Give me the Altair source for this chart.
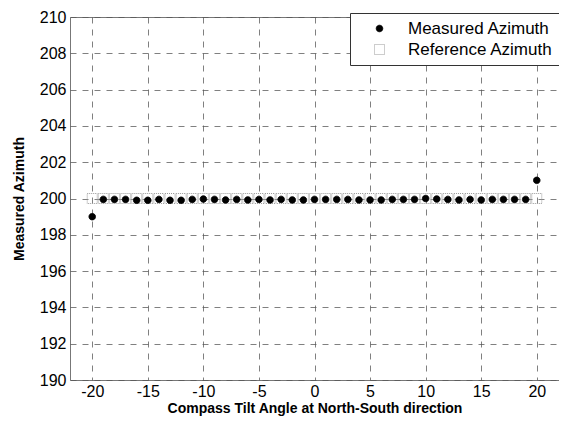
import altair as alt
import pandas as pd

angles = list(range(-20, 21))
measured = [199.0, 199.95, 199.95, 199.95, 199.9, 199.9, 199.95, 199.9, 199.9, 199.95,
            199.97, 199.95, 199.92, 199.95, 199.92, 199.95, 199.92, 199.95, 199.92, 199.92,
            199.95, 199.95, 199.95, 199.95, 199.92, 199.92, 199.92, 199.95, 199.95, 199.95,
            200.0, 199.97, 199.95, 199.92, 199.95, 199.92, 199.95, 199.95, 199.95, 199.95,
            201.0]
reference = [200.0] * len(angles)
series = ["Measured Azimuth", "Reference Azimuth"]
x_ticks = [-20, -15, -10, -5, 0, 5, 10, 15, 20]
y_ticks = list(range(190, 211, 2))

rows = []
for a, r in zip(angles, reference):
    rows.append({"angle": a, "value": r, "series": series[1]})
for a, m in zip(angles, measured):
    rows.append({"angle": a, "value": m, "series": series[0]})
df = pd.DataFrame(rows)
df["order"] = df["series"].map({series[1]: 0, series[0]: 1})

font = "Liberation Sans"
leg = alt.Legend(title=None)

chart = alt.Chart(df).mark_point(strokeWidth=1, opacity=1).encode(
    x=alt.X("angle:Q", scale=alt.Scale(domain=[-22, 22], nice=False, zero=False),
            axis=alt.Axis(values=x_ticks, labelExpr="toString(datum.value)",
                          title="Compass Tilt Angle at North-South direction")),
    y=alt.Y("value:Q", scale=alt.Scale(domain=[190, 210], nice=False, zero=False),
            axis=alt.Axis(values=y_ticks, labelExpr="toString(datum.value)",
                          title="Measured Azimuth")),
    shape=alt.Shape("series:N", scale=alt.Scale(domain=series, range=["circle", "square"]), legend=leg),
    fill=alt.Fill("series:N", scale=alt.Scale(domain=series, range=["black", "transparent"]), legend=leg),
    stroke=alt.Stroke("series:N", scale=alt.Scale(domain=series, range=["black", "#9a9a9a"]), legend=leg),
    strokeDash=alt.StrokeDash("series:N", scale=alt.Scale(domain=series, range=[[1, 0], [1, 1]]), legend=leg),
    size=alt.Size("series:N", scale=alt.Scale(domain=series, range=[42, 100]), legend=leg),
    order=alt.Order("order:Q"),
).properties(
    width=489, height=363,
    autosize=alt.AutoSizeParams(type="none"),
    padding={"left": 62, "top": 9, "right": 0, "bottom": 43},
).configure_view(
    stroke="#777", strokeWidth=1
).configure_axis(
    grid=True, gridColor="#555", gridDash=[6, 6], gridOpacity=0.75, gridWidth=1,
    ticks=False, domain=False,
    labelFont=font, labelFontSize=16, labelColor="black",
    titleFont=font, titleFontSize=14, titleFontWeight="bold", titleColor="black",
).configure_axisY(
    labelPadding=4, titlePadding=13
).configure_axisX(
    labelPadding=3, titlePadding=2
).configure_legend(
    orient="none", legendX=280, legendY=-4,
    labelFont=font, labelFontSize=17, labelColor="black",
    strokeColor="#333", fillColor="white", padding=7, rowPadding=3,
    symbolOffset=14, labelOffset=20,
    symbolStrokeWidth=1,
)

chart.save("out.html", embed_options={"renderer": "svg", "actions": False})
